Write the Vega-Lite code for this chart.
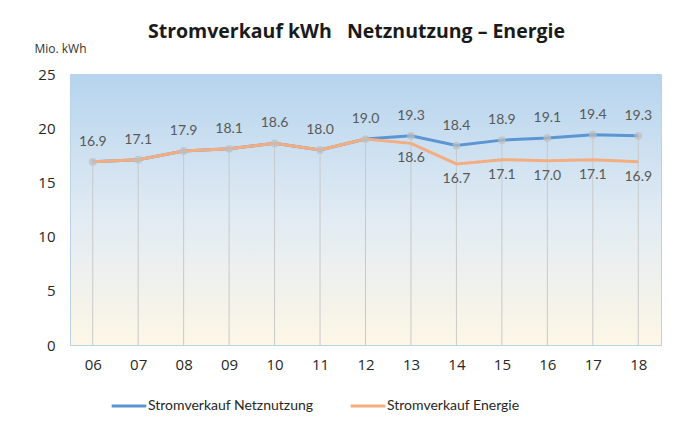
{
  "$schema": "https://vega.github.io/schema/vega-lite/v6.json",
  "autosize": "none",
  "width": 591,
  "height": 271,
  "padding": {"left": 70, "top": 74, "right": 24, "bottom": 76},
  "background": "white",
  "view": {
    "stroke": "#b9d2ea",
    "strokeWidth": 1,
    "fill": {"gradient": "linear", "x1": 0, "y1": 0, "x2": 0, "y2": 1,
      "stops": [{"offset": 0, "color": "#b6d4ee"}, {"offset": 0.55, "color": "#e3ecf3"}, {"offset": 1, "color": "#fdf7e6"}]}
  },
  "title": {
    "text": "Stromverkauf kWh\u00a0\u00a0\u00a0Netznutzung – Energie",
    "font": "Open Sans", "fontSize": 19.5, "fontWeight": "bold", "color": "#1a1a1a",
    "anchor": "middle", "dx": -9, "offset": 0
  },
  "data": {"values": [
    {"year": "06", "series": "Stromverkauf Netznutzung", "value": 16.9},
    {"year": "07", "series": "Stromverkauf Netznutzung", "value": 17.1},
    {"year": "08", "series": "Stromverkauf Netznutzung", "value": 17.9},
    {"year": "09", "series": "Stromverkauf Netznutzung", "value": 18.1},
    {"year": "10", "series": "Stromverkauf Netznutzung", "value": 18.6},
    {"year": "11", "series": "Stromverkauf Netznutzung", "value": 18.0},
    {"year": "12", "series": "Stromverkauf Netznutzung", "value": 19.0},
    {"year": "13", "series": "Stromverkauf Netznutzung", "value": 19.3},
    {"year": "14", "series": "Stromverkauf Netznutzung", "value": 18.4},
    {"year": "15", "series": "Stromverkauf Netznutzung", "value": 18.9},
    {"year": "16", "series": "Stromverkauf Netznutzung", "value": 19.1},
    {"year": "17", "series": "Stromverkauf Netznutzung", "value": 19.4},
    {"year": "18", "series": "Stromverkauf Netznutzung", "value": 19.3},
    {"year": "06", "series": "Stromverkauf Energie", "value": 16.9},
    {"year": "07", "series": "Stromverkauf Energie", "value": 17.1},
    {"year": "08", "series": "Stromverkauf Energie", "value": 17.9},
    {"year": "09", "series": "Stromverkauf Energie", "value": 18.1},
    {"year": "10", "series": "Stromverkauf Energie", "value": 18.6},
    {"year": "11", "series": "Stromverkauf Energie", "value": 18.0},
    {"year": "12", "series": "Stromverkauf Energie", "value": 19.0},
    {"year": "13", "series": "Stromverkauf Energie", "value": 18.6},
    {"year": "14", "series": "Stromverkauf Energie", "value": 16.7},
    {"year": "15", "series": "Stromverkauf Energie", "value": 17.1},
    {"year": "16", "series": "Stromverkauf Energie", "value": 17.0},
    {"year": "17", "series": "Stromverkauf Energie", "value": 17.1},
    {"year": "18", "series": "Stromverkauf Energie", "value": 16.9}
  ]},
  "encoding": {
    "x": {"field": "year", "type": "ordinal", "scale": {"type": "point", "padding": 0.5},
      "axis": {"title": null, "domain": false, "ticks": false, "labelAngle": 0, "labelPadding": 12,
        "labelFont": "Open Sans", "labelFontSize": 15, "labelColor": "#262626"}},
    "y": {"field": "value", "type": "quantitative", "scale": {"domain": [0, 25]},
      "axis": {"title": "Mio. kWh", "titleAngle": 0, "titleX": -36, "titleY": -22, "titleAlign": "left",
        "titleBaseline": "alphabetic", "titleFont": "Open Sans", "titleFontSize": 12, "titleFontWeight": "normal", "titleColor": "#333",
        "values": [0, 5, 10, 15, 20, 25], "grid": false, "domain": false, "ticks": false, "labelPadding": 15,
        "labelFont": "Open Sans", "labelFontSize": 15, "labelColor": "#262626"}}
  },
  "layer": [
    {
      "transform": [{"filter": "datum.series == 'Stromverkauf Netznutzung'"}],
      "mark": {"type": "rule", "color": "#c9c9c9", "strokeWidth": 1},
      "encoding": {"y2": {"datum": 0}}
    },
    {
      "transform": [{"filter": "datum.series == 'Stromverkauf Netznutzung'"}],
      "mark": {"type": "line", "strokeWidth": 3},
      "encoding": {"color": {"field": "series", "type": "nominal",
        "scale": {"domain": ["Stromverkauf Netznutzung", "Stromverkauf Energie"], "range": ["#5b95d3", "#f5ad80"]},
        "legend": {"title": null, "orient": "none", "direction": "horizontal", "legendX": 40, "legendY": 313,
          "symbolType": "stroke", "symbolSize": 1200, "symbolStrokeWidth": 3, "columnPadding": 30, "labelOffset": 0,
          "labelLimit": 300, "labelFont": "Lato", "labelFontSize": 14, "labelColor": "#262626"}}}
    },
    {
      "transform": [{"filter": "datum.series == 'Stromverkauf Energie'"}],
      "mark": {"type": "line", "strokeWidth": 3},
      "encoding": {"color": {"field": "series", "type": "nominal"}}
    },
    {
      "transform": [{"filter": "datum.series == 'Stromverkauf Netznutzung'"}],
      "mark": {"type": "circle", "size": 60, "color": "#bdbdbd", "opacity": 0.7}
    },
    {
      "transform": [{"filter": "datum.series == 'Stromverkauf Netznutzung'"}],
      "mark": {"type": "text", "dy": -20, "font": "Lato", "fontSize": 14, "color": "#595959"},
      "encoding": {"text": {"field": "value", "type": "quantitative", "format": ".1f"}}
    },
    {
      "transform": [{"filter": "datum.series == 'Stromverkauf Energie' && datum.year >= '13'"}],
      "mark": {"type": "text", "dy": 15, "font": "Lato", "fontSize": 14, "color": "#595959"},
      "encoding": {"text": {"field": "value", "type": "quantitative", "format": ".1f"}}
    }
  ]
}
